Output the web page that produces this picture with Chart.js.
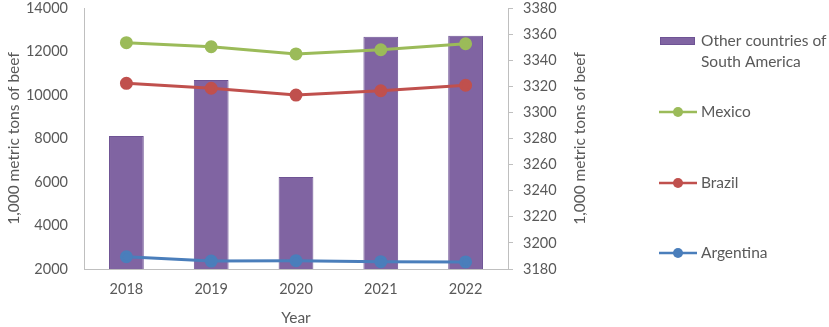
<!DOCTYPE html>
<html><head><meta charset="utf-8">
<script src="https://cdn.jsdelivr.net/npm/chart.js@4.4.0/dist/chart.umd.min.js"></script>
<style>html,body{margin:0;padding:0;background:#fff;}#wrap{position:relative;width:829px;height:327px;}</style>
</head><body><div id="wrap"><canvas id="c" width="829" height="327"></canvas></div>
<script>
const years = ["2018","2019","2020","2021","2022"];
const otherSA = [8115, 10690, 6230, 12680, 12726];
const mexico = [3353.4, 3350.3, 3344.8, 3348.0, 3352.6];
const brazil = [3322.3, 3318.5, 3313.3, 3316.6, 3320.8];
const argentina = [3189.4, 3186.1, 3186.4, 3185.6, 3185.4];
const axisTitle = "1,000 metric tons of beef";
const xTitle = "Year";

const FONT = "Lato, 'Open Sans', sans-serif";
const TXT = '#595959';
const AX = '#bfbfbf';

const legendPlugin = {
  id: 'customLegend',
  afterDraw(chart) {
    const ctx = chart.ctx;
    ctx.save();
    ctx.fillStyle = TXT;
    ctx.font = '15.5px ' + FONT;
    ctx.textAlign = 'center';
    ctx.textBaseline = 'middle';
    ctx.translate(580, (chart.chartArea.top + chart.chartArea.bottom) / 2);
    ctx.rotate(-Math.PI / 2);
    ctx.fillText(axisTitle, 0, 0);
    ctx.restore();

    ctx.save();
    ctx.font = '15.5px ' + FONT;
    ctx.textBaseline = 'middle';
    ctx.textAlign = 'left';
    const items = [
      {ds: chart.data.datasets[3], y: 41, lines: ["Other countries of", "South America"], bar: true},
      {ds: chart.data.datasets[0], y: 112, lines: ["Mexico"]},
      {ds: chart.data.datasets[1], y: 183, lines: ["Brazil"]},
      {ds: chart.data.datasets[2], y: 253, lines: ["Argentina"]}
    ];
    items.forEach(it => {
      if (it.bar) {
        ctx.fillStyle = it.ds.backgroundColor;
        ctx.fillRect(660, it.y - 4, 35, 8);
        ctx.strokeStyle = it.ds.borderColor;
        ctx.lineWidth = 1;
        ctx.strokeRect(660.5, it.y - 3.5, 34, 7);
      } else {
        ctx.strokeStyle = it.ds.borderColor;
        ctx.lineWidth = 2.5;
        ctx.beginPath(); ctx.moveTo(659, it.y); ctx.lineTo(697, it.y); ctx.stroke();
        ctx.fillStyle = it.ds.pointBackgroundColor;
        ctx.beginPath(); ctx.arc(678, it.y, 5, 0, Math.PI * 2); ctx.fill();
      }
      ctx.fillStyle = TXT;
      it.lines.forEach((t, i) => ctx.fillText(t, 701, it.y + i * 21));
    });
    ctx.restore();
  }
};

function lineDs(label, data, color) {
  return {
    type: 'line', label, data, yAxisID: 'y2', order: 1,
    borderColor: color, backgroundColor: color,
    pointBackgroundColor: color, pointBorderColor: color,
    borderWidth: 3, pointRadius: 5, pointHoverRadius: 5, tension: 0
  };
}

const TICKFONT = {family: FONT, size: 14.5};

new Chart(document.getElementById('c'), {
  data: {
    labels: years,
    datasets: [
      lineDs("Mexico", mexico, '#9bbb59'),
      lineDs("Brazil", brazil, '#c0504d'),
      lineDs("Argentina", argentina, '#4a7ebb'),
      {
        type: 'bar', label: "Other countries of South America", data: otherSA,
        yAxisID: 'y', order: 2,
        backgroundColor: '#8064a2', borderColor: '#6e5394', borderWidth: 1,
        barPercentage: 0.41, categoryPercentage: 1
      }
    ]
  },
  options: {
    responsive: false, animation: false,
    layout: {padding: {left: 5, right: 240, top: 0, bottom: 0}},
    plugins: {legend: {display: false}, tooltip: {enabled: false}},
    scales: {
      x: {
        grid: {display: false},
        border: {display: true, color: AX, width: 1},
        ticks: {color: TXT, font: TICKFONT, padding: 4, maxRotation: 0},
        title: {display: true, text: xTitle, color: TXT, font: {family: FONT, size: 15.5}, padding: {top: 0, bottom: 0}},
        afterFit(s) { s.height = 58; }
      },
      y: {
        position: 'left', min: 2000, max: 14000,
        grid: {display: false, drawTicks: false},
        border: {display: true, color: AX, width: 1},
        ticks: {stepSize: 2000, color: TXT, font: TICKFONT, padding: 16,
                callback: v => String(v)},
        title: {display: true, text: axisTitle, color: TXT, font: {family: FONT, size: 15.5}, padding: {top: 0, bottom: 0}},
        afterFit(s) { s.width = 79; s.paddingTop = 8; s.paddingBottom = 0; }
      },
      y2: {
        position: 'right', min: 3180, max: 3380,
        grid: {display: true, drawOnChartArea: false, drawTicks: true, tickLength: 5, color: AX},
        border: {display: true, color: AX, width: 1},
        ticks: {stepSize: 20, color: TXT, font: TICKFONT, padding: 10,
                callback: v => String(v)},
        afterFit(s) { s.width = 81; s.paddingTop = 8; s.paddingBottom = 0; }
      }
    }
  },
  plugins: [legendPlugin]
});
</script>
</body></html>
